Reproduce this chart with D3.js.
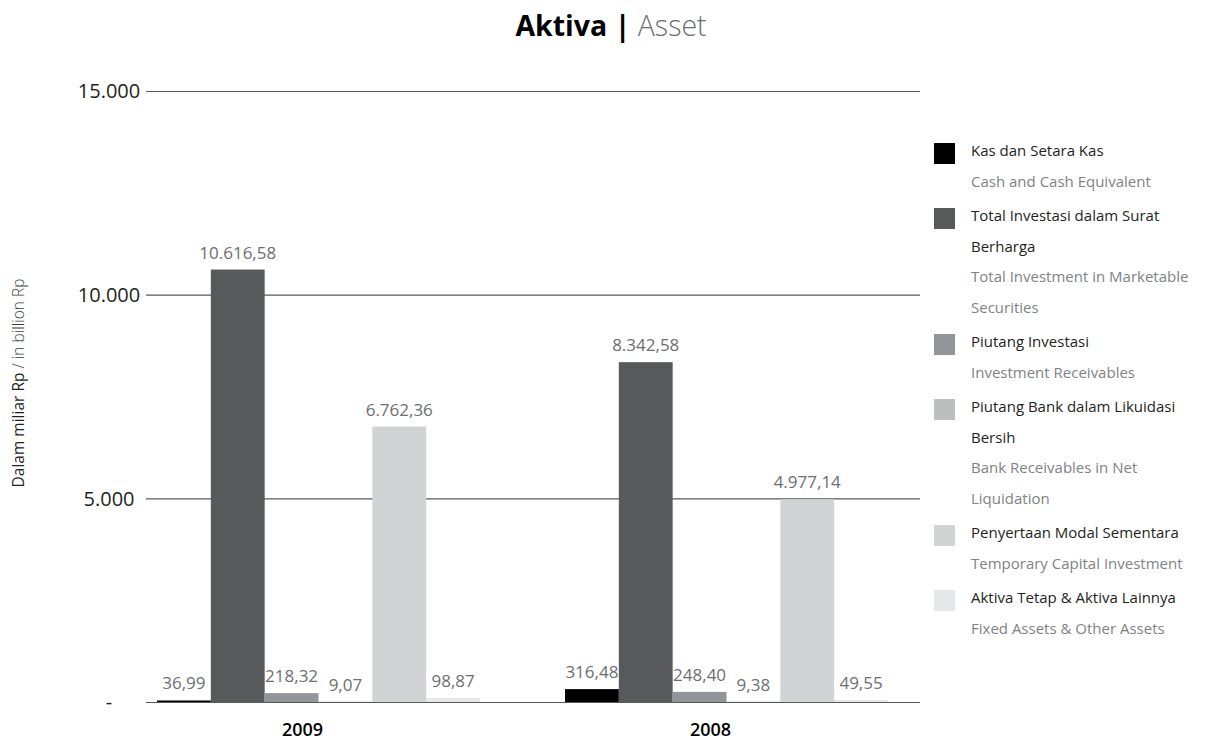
<!DOCTYPE html>
<html>
<head>
<meta charset="utf-8">
<script src="https://cdn.jsdelivr.net/npm/d3@7"></script>
<style>
  body { margin: 0; background: #fff; }
  svg { font-family: "Open Sans", "Noto Sans", sans-serif; }
</style>
</head>
<body>
<div id="chart"></div>
<script>
var w = 1226, h = 742;

// Data
var years = ["2009", "2008"];
var seriesKeys = ["kas", "investasi", "piutangInv", "piutangBank", "penyertaan", "aktivaTetap"];
var values2009 = [36.99, 10616.58, 218.32, 9.07, 6762.36, 98.87];
var values2008 = [316.48, 8342.58, 248.40, 9.38, 4977.14, 49.55];
var yTicks = [0, 5000, 10000, 15000];
var legendIndo = [
  ["Kas dan Setara Kas"],
  ["Total Investasi dalam Surat", "Berharga"],
  ["Piutang Investasi"],
  ["Piutang Bank dalam Likuidasi", "Bersih"],
  ["Penyertaan Modal Sementara"],
  ["Aktiva Tetap & Aktiva Lainnya"]
];
var legendEng = [
  ["Cash and Cash Equivalent"],
  ["Total Investment in Marketable", "Securities"],
  ["Investment Receivables"],
  ["Bank Receivables in Net", "Liquidation"],
  ["Temporary Capital Investment"],
  ["Fixed Assets & Other Assets"]
];
var colors = ["#000000", "#58595b", "#939598", "#bcbec0", "#d1d3d4", "#e6e7e8"];

var valuesByYear = { "2009": values2009, "2008": values2008 };

// Indonesian number format
var idLocale = d3.formatLocale({ decimal: ",", thousands: ".", grouping: [3], currency: ["Rp", ""] });
var fmtVal = idLocale.format(",.2f");
var fmtTick = idLocale.format(",");

var svg = d3.select("#chart").append("svg")
  .attr("width", w)
  .attr("height", h);

var plotLeft = 146, plotRight = 920, plotTop = 91, plotBottom = 702;

// Scales
var y = d3.scaleLinear().domain([0, 15000]).range([plotBottom, plotTop]);
var x0 = d3.scaleBand().domain(years).range([157, 888]).paddingInner(0.2083);
var x1 = d3.scaleBand().domain(seriesKeys).range([0, x0.bandwidth()]);
var color = d3.scaleOrdinal().domain(seriesKeys).range(colors);

// Gridlines + tick labels
var yAxis = d3.axisLeft(y)
  .tickValues(yTicks)
  .tickSize(-(plotRight - plotLeft))
  .tickFormat(function(d) { return d === 0 ? "-" : fmtTick(d); });

var gy = svg.append("g")
  .attr("transform", "translate(" + plotLeft + ",0)")
  .call(yAxis)
  .attr("font-family", null)
  .attr("font-size", null);
gy.select(".domain").remove();
gy.selectAll(".tick line").attr("stroke", "#58595b").attr("stroke-width", 1.2);
gy.selectAll(".tick text")
  .attr("fill", "#231f20")
  .attr("text-anchor", "middle")
  .style("font-size", "20px")
  .attr("x", -37)
  .attr("dy", "0.34em");

// Bars
var groups = svg.append("g").selectAll("g")
  .data(years)
  .enter().append("g")
  .attr("transform", function(d) { return "translate(" + x0(d) + ",0)"; });

groups.selectAll("rect")
  .data(function(yr) {
    return seriesKeys.map(function(k, i) { return { key: k, value: valuesByYear[yr][i] }; });
  })
  .enter().append("rect")
  .attr("x", function(d) { return x1(d.key); })
  .attr("width", x1.bandwidth())
  .attr("y", function(d) { return y(d.value); })
  .attr("height", function(d) { return plotBottom - y(d.value); })
  .attr("fill", function(d) { return color(d.key); });

// Value labels
groups.selectAll("text")
  .data(function(yr) {
    return seriesKeys.map(function(k, i) { return { key: k, value: valuesByYear[yr][i] }; });
  })
  .enter().append("text")
  .attr("x", function(d) { return x1(d.key) + x1.bandwidth() / 2; })
  .attr("y", function(d) { return y(d.value) - 11; })
  .attr("text-anchor", "middle")
  .attr("fill", "#6d6e71")
  .style("font-size", "17px")
  .text(function(d) { return fmtVal(d.value); });

// Year labels
svg.append("g").selectAll("text")
  .data(years)
  .enter().append("text")
  .attr("x", function(d) { return x0(d) + x0.bandwidth() / 2 - 16; })
  .attr("y", 736)
  .attr("text-anchor", "middle")
  .attr("fill", "#000")
  .style("font-size", "18px")
  .style("font-weight", 600)
  .text(function(d) { return d; });

// Title
var title = svg.append("text")
  .attr("x", 611)
  .attr("y", 36)
  .attr("text-anchor", "middle")
  .style("font-size", "28.5px");
title.append("tspan").attr("font-weight", "bold").attr("fill", "#000").text("Aktiva");
title.append("tspan").attr("font-weight", "bold").attr("fill", "#000").text(" | ");
title.append("tspan").attr("fill", "#6d6e71").attr("font-weight", 300).text("Asset");

// Y axis title
var yTitle = svg.append("text")
  .attr("transform", "translate(24,383) rotate(-90)")
  .attr("text-anchor", "middle")
  .style("font-size", "15.5px");
yTitle.append("tspan").attr("fill", "#231f20").text("Dalam miliar Rp");
yTitle.append("tspan").attr("fill", "#414042").attr("font-weight", 300).text(" / in billion Rp");

// Legend
var lineH = 30.5, gapH = 4, legY = 151;
var legend = svg.append("g");
seriesKeys.forEach(function(k, i) {
  var lines = legendIndo[i].map(function(t) { return { t: t, eng: false }; })
    .concat(legendEng[i].map(function(t) { return { t: t, eng: true }; }));
  var item = legend.append("g").attr("transform", "translate(0," + legY + ")");
  item.append("rect")
    .attr("x", 934).attr("y", -8)
    .attr("width", 21).attr("height", 21)
    .attr("fill", color(k));
  item.selectAll("text")
    .data(lines)
    .enter().append("text")
    .attr("x", 971)
    .attr("y", function(d, j) { return j * lineH + 5; })
    .attr("fill", function(d) { return d.eng ? "#808285" : "#231f20"; })
    .style("font-size", "15px")
    .text(function(d) { return d.t; });
  legY += lines.length * lineH + gapH;
});
</script>
</body>
</html>
